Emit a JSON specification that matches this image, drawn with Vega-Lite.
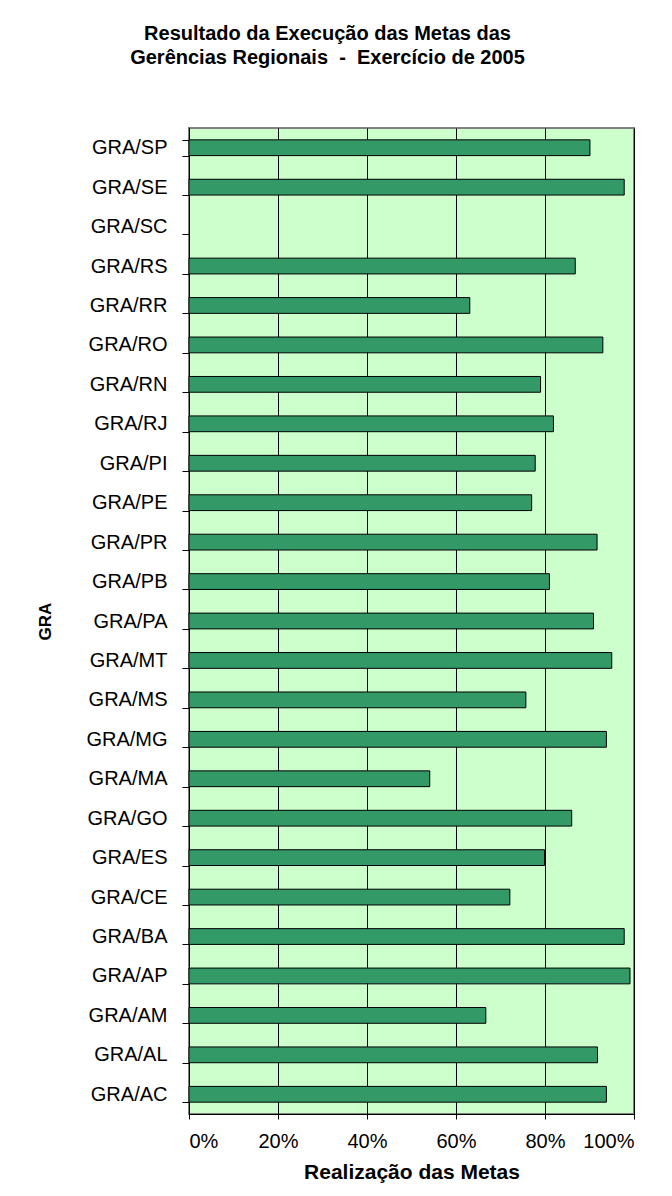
{
  "$schema": "https://vega.github.io/schema/vega-lite/v6.json",
  "width": 445,
  "height": 986,
  "autosize": {"type": "none"},
  "padding": {"left": 189, "top": 128, "right": 38, "bottom": 82},
  "background": "white",
  "title": {
    "text": ["Resultado da Execução das Metas das", "Gerências Regionais \u00a0-\u00a0 Exercício de 2005"],
    "font": "Liberation Sans",
    "fontSize": 20,
    "fontWeight": "bold",
    "lineHeight": 24,
    "color": "black",
    "anchor": "middle",
    "dx": -84,
    "offset": 50
  },
  "data": {
    "values": [
      {"gra": "GRA/SP", "realizacao": 0.901},
      {"gra": "GRA/SE", "realizacao": 0.978},
      {"gra": "GRA/SC", "realizacao": null},
      {"gra": "GRA/RS", "realizacao": 0.868},
      {"gra": "GRA/RR", "realizacao": 0.631},
      {"gra": "GRA/RO", "realizacao": 0.930},
      {"gra": "GRA/RN", "realizacao": 0.790},
      {"gra": "GRA/RJ", "realizacao": 0.819},
      {"gra": "GRA/PI", "realizacao": 0.778},
      {"gra": "GRA/PE", "realizacao": 0.770},
      {"gra": "GRA/PR", "realizacao": 0.917},
      {"gra": "GRA/PB", "realizacao": 0.810},
      {"gra": "GRA/PA", "realizacao": 0.909},
      {"gra": "GRA/MT", "realizacao": 0.950},
      {"gra": "GRA/MS", "realizacao": 0.757},
      {"gra": "GRA/MG", "realizacao": 0.938},
      {"gra": "GRA/MA", "realizacao": 0.541},
      {"gra": "GRA/GO", "realizacao": 0.860},
      {"gra": "GRA/ES", "realizacao": 0.799},
      {"gra": "GRA/CE", "realizacao": 0.721},
      {"gra": "GRA/BA", "realizacao": 0.978},
      {"gra": "GRA/AP", "realizacao": 0.991},
      {"gra": "GRA/AM", "realizacao": 0.667},
      {"gra": "GRA/AL", "realizacao": 0.918},
      {"gra": "GRA/AC", "realizacao": 0.938}
    ]
  },
  "mark": {"type": "bar", "fill": "#339966", "stroke": "black", "strokeWidth": 1},
  "encoding": {
    "y": {
      "field": "gra",
      "type": "nominal",
      "sort": null,
      "scale": {
        "domain": ["GRA/SP", "GRA/SE", "GRA/SC", "GRA/RS", "GRA/RR", "GRA/RO", "GRA/RN", "GRA/RJ", "GRA/PI", "GRA/PE", "GRA/PR", "GRA/PB", "GRA/PA", "GRA/MT", "GRA/MS", "GRA/MG", "GRA/MA", "GRA/GO", "GRA/ES", "GRA/CE", "GRA/BA", "GRA/AP", "GRA/AM", "GRA/AL", "GRA/AC"],
        "paddingInner": 0.6,
        "paddingOuter": 0.3
      },
      "axis": {
        "title": "GRA",
        "titleFont": "Liberation Sans",
        "titleFontSize": 17,
        "titleFontWeight": "bold",
        "titleColor": "black",
        "titleX": -144,
        "titleY": 493,
        "titleAngle": -90,
        "titleAlign": "center",
        "titleBaseline": "middle",
        "tickBand": "extent",
        "tickSize": 7,
        "tickColor": "black",
        "domainColor": "black",
        "labelFont": "Liberation Sans",
        "labelFontSize": 20,
        "labelColor": "black",
        "labelPadding": 15,
        "grid": false
      }
    },
    "x": {
      "field": "realizacao",
      "type": "quantitative",
      "scale": {"domain": [0, 1], "nice": false},
      "axis": {
        "title": "Realização das Metas",
        "titleFont": "Liberation Sans",
        "titleFontSize": 21,
        "titleFontWeight": "bold",
        "titleColor": "black",
        "titleY": 58,
        "titleBaseline": "middle",
        "format": ".0%",
        "values": [0, 0.2, 0.4, 0.6, 0.8, 1],
        "grid": true,
        "gridColor": "black",
        "gridOpacity": 1,
        "tickSize": 5,
        "tickColor": "black",
        "domainColor": "black",
        "labelFont": "Liberation Sans",
        "labelFontSize": 20,
        "labelColor": "black",
        "labelBaseline": "middle",
        "labelPadding": 22
      }
    }
  },
  "config": {
    "view": {"fill": "#CCFFCC", "stroke": "#808080", "strokeWidth": 2}
  }
}
